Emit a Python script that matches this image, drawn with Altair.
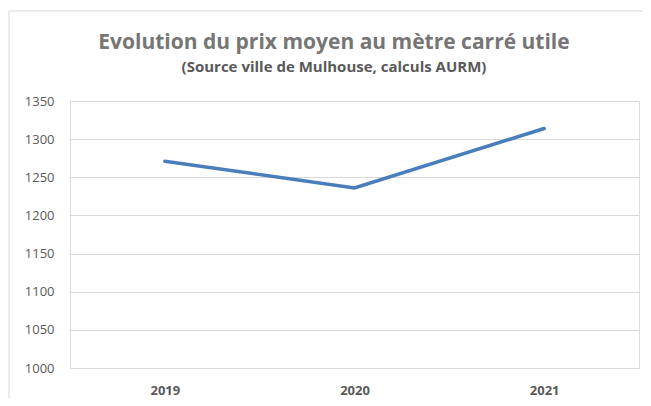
import altair as alt
import pandas as pd

years = ["2019", "2020", "2021"]
prix = [1271, 1236, 1314]
y_ticks = [1000, 1050, 1100, 1150, 1200, 1250, 1300, 1350]
title_text = "Evolution du prix moyen au mètre carré utile"
subtitle_text = "(Source ville de Mulhouse, calculs AURM)"

df = pd.DataFrame({"annee": years, "prix": prix})

base = alt.Chart(df)
one = base.transform_filter(alt.datum.annee == "2019")

border = one.mark_rect(fill=None, stroke="#d9d9d9", strokeWidth=1).encode(
    x=alt.value(-61), x2=alt.value(700), y=alt.value(-90), y2=alt.value(400)
)

title = one.mark_text(
    text=title_text, font="Open Sans", fontSize=21, fontWeight="bold",
    color="#767676", align="center", baseline="alphabetic"
).encode(x=alt.value(264), y=alt.value(-52))

subtitle = one.mark_text(
    text=subtitle_text, font="Open Sans", fontSize=15, fontWeight="bold",
    color="#595959", align="center", baseline="alphabetic"
).encode(x=alt.value(264), y=alt.value(-29))

line = base.mark_line(color="#4a7ebb", strokeWidth=3.5, strokeCap="round").encode(
    x=alt.X("annee:N", sort=years, title=None,
            scale=alt.Scale(paddingInner=0, paddingOuter=0),
            axis=alt.Axis(labelAngle=0, labelFontWeight="bold", labelFontSize=13,
                          labelColor="#595959", labelPadding=16, domain=False,
                          ticks=False, grid=False, labelFont="Open Sans")),
    y=alt.Y("prix:Q", title=None,
            scale=alt.Scale(domain=[1000, 1350], nice=False, zero=False),
            axis=alt.Axis(values=y_ticks, format="d", labelFontSize=13,
                          labelColor="#595959", labelPadding=16, domain=False,
                          ticks=False, gridColor="#d9d9d9", gridWidth=1,
                          labelFont="Open Sans")),
)

chart = (border + line + title + subtitle).properties(
    width=569,
    height=267,
    autosize=alt.AutoSizeParams(type="none"),
    padding={"left": 62, "top": 93, "right": 4, "bottom": 30},
).configure_view(strokeWidth=0, stroke="transparent").configure(background="white")

chart.save("out.html", embed_options={"renderer": "svg", "actions": False})
